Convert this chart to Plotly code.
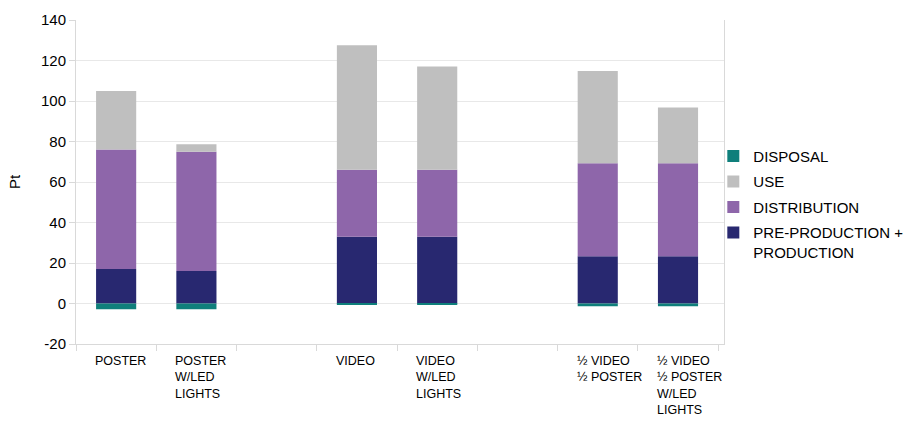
import plotly.graph_objects as go

categories = ["POSTER", "POSTER<br>W/LED<br>LIGHTS", " ", "VIDEO", "VIDEO<br>W/LED<br>LIGHTS", "  ",
              "½ VIDEO<br>½ POSTER", "½ VIDEO<br>½ POSTER<br>W/LED<br>LIGHTS"]
preproduction = [17, 16, None, 33, 33, None, 23.3, 23.3]
distribution = [59, 59, None, 33, 33, None, 46, 46]
use = [29, 3.7, None, 61.5, 51, None, 45.5, 27.5]
disposal = [-2.8, -2.8, None, -0.6, -0.6, None, -1.4, -1.4]
y_ticks = [-20, 0, 20, 40, 60, 80, 100, 120, 140]

series_names = ["PRE-PRODUCTION +<br>PRODUCTION", "DISTRIBUTION", "USE", "DISPOSAL"]
colors = ["#282870", "#8e66aa", "#bfbfbf", "#0f7f7b"]

fig = go.Figure()
for i, (name, vals, col) in enumerate(zip(series_names, [preproduction, distribution, use, disposal], colors)):
    fig.add_trace(go.Bar(x=categories, y=vals, name=name, marker_color=col,
                         marker_line_width=0, legendgroup=f"g{i}", legendrank=1000 - i))

font_main = "Liberation Sans, Arial, sans-serif"

for c in categories:
    if c.strip():
        fig.add_annotation(x=c, xref="x", y=0, yref="paper", yanchor="top", xanchor="left",
                           xshift=-23, yshift=-8, text=c, showarrow=False, align="left",
                           font=dict(family=font_main, size=12.5, color="#000000"))

fig.update_layout(
    width=911, height=426,
    margin=dict(l=76, r=187, t=20, b=82, autoexpand=False),
    barmode="relative", bargap=0.5,
    plot_bgcolor="white", paper_bgcolor="white",
    font=dict(family=font_main, size=15, color="#000000"),
    legend=dict(traceorder="grouped", xref="container", yref="container", x=0.783, y=0.672,
                xanchor="left", yanchor="top", font=dict(size=15), itemwidth=30, valign="top",
                tracegroupgap=3, bgcolor="rgba(0,0,0,0)"),
    showlegend=True,
)
fig.update_xaxes(type="category", showticklabels=False, ticks="outside", tickson="boundaries",
                 ticklen=6, tickcolor="#d9d9d9", showline=True, linecolor="#d9d9d9",
                 showgrid=False, mirror=False)
fig.update_yaxes(range=[-20, 140], tickvals=y_ticks, ticktext=[str(v) for v in y_ticks],
                 showgrid=True, gridcolor="#e8e8e8", zeroline=False,
                 ticks="outside", ticklen=6, tickcolor="#d9d9d9", showline=True, linecolor="#d9d9d9",
                 mirror=True, tickfont=dict(size=15),
                 title=dict(text="Pt", font=dict(size=15), standoff=16))

fig.write_html("out.html")
